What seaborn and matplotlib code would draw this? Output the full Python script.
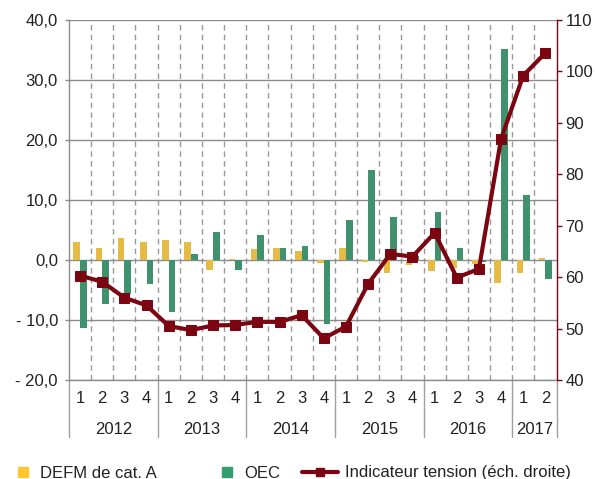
import numpy as np
import pandas as pd
import matplotlib
matplotlib.use("Agg")
import matplotlib.pyplot as plt
from matplotlib.lines import Line2D
import seaborn as sns

# ---- data ----
years = ["2012", "2013", "2014", "2015", "2016", "2017"]
quarters = ["1", "2", "3", "4"] * 5 + ["1", "2"]
defm = [3.0, 2.0, 3.6, 3.0, 3.3, 3.0, -1.7, 0.2, 1.8, 2.0, 1.5, -0.5,
        2.0, -0.4, -2.1, -0.9, -1.9, -1.4, -0.6, -3.9, -2.1, 0.4]
oec = [-11.3, -7.4, -5.6, -4.0, -8.7, 1.0, 4.6, -1.7, 4.1, 2.0, 2.3, -10.7,
       6.7, 15.0, 7.2, 0.7, 8.0, 2.0, -0.3, 35.2, 10.8, -3.2]
tension = [60.3, 59.1, 56.0, 54.5, 50.5, 49.7, 50.6, 50.7, 51.3, 51.3, 52.6, 48.1,
           50.4, 58.7, 64.5, 64.0, 68.6, 59.9, 61.6, 86.9, 99.2, 103.6]
year_counts = [4, 4, 4, 4, 4, 2]
left_ticks = [40, 30, 20, 10, 0, -10, -20]
left_labels = ["40,0", "30,0", "20,0", "10,0", "0,0", "- 10,0", "- 20,0"]
right_ticks = [40, 50, 60, 70, 80, 90, 100, 110]
series_names = ["DEFM de cat. A", "OEC"]
line_name = "Indicateur tension (éch. droite)"

YELLOW = "#FFC72C"
GREEN = "#339E70"
RED = "#7B0611"
GRID = "#8c8c8c"
TXT = "#222222"
FS = 12

sns.set_theme(style="white")
plt.rcParams["font.family"] = ["Liberation Sans", "DejaVu Sans"]
plt.rcParams["font.size"] = FS

# period keys
year_of = []
for y, c in zip(years, year_counts):
    year_of += [y] * c
periods = [f"{y}-{q}" for y, q in zip(year_of, quarters)]
n = len(periods)

df = pd.DataFrame({
    "period": periods * 2,
    "serie": [series_names[0]] * n + [series_names[1]] * n,
    "value": defm + oec,
})

fig = plt.figure(figsize=(5.95, 4.79), dpi=100)
ax = fig.add_axes([69 / 595, 1 - 380 / 479, (556.5 - 69) / 595, 360 / 479])

sns.barplot(data=df, x="period", y="value", hue="serie", order=periods,
            hue_order=series_names, palette=[YELLOW, GREEN], width=0.6,
            linewidth=0, legend=False, ax=ax, zorder=3)

ax.set_ylim(-20, 40)
ax.set_xlim(-0.5, n - 0.5)
ax.set_yticks(left_ticks)
ax.set_yticklabels(left_labels)
ax.set_xticks(range(n))
ax.set_xticklabels(quarters)
ax.set_xlabel("")
ax.set_ylabel("")
ax.tick_params(axis="y", which="major", length=3, width=1, color=GRID, pad=5,
               labelsize=FS, labelcolor=TXT, left=True)
ax.tick_params(axis="x", which="major", length=0, pad=8, labelsize=FS, labelcolor=TXT)
ax.set_xticks(np.arange(0.5, n - 1, 1), minor=True)
ax.tick_params(axis="x", which="minor", length=0)
ax.grid(which="major", axis="y", color=GRID, linewidth=1, linestyle="-", zorder=1)
ax.grid(which="minor", axis="x", color="#999999", linewidth=1, linestyle=(0, (4, 3)), zorder=1)
ax.grid(which="major", axis="x", visible=False)
ax.set_axisbelow(True)
for s in ["top", "right"]:
    ax.spines[s].set_visible(False)
for s in ["left", "bottom"]:
    ax.spines[s].set_color(GRID)
    ax.spines[s].set_linewidth(1)

# year separators & labels
bounds = np.cumsum([0] + year_counts) - 0.5
for b in bounds:
    ax.axvline(b, ymin=-57 / 360, ymax=0, color="#a0a0a0", linewidth=1, clip_on=False)
for i, y in enumerate(years):
    cx = (bounds[i] + bounds[i + 1]) / 2
    ax.text(cx, -50 / 360, y, transform=ax.get_xaxis_transform(), ha="center",
            va="center", fontsize=FS, color=TXT)

# right axis line
ax2 = ax.twinx()
sns.lineplot(x=np.arange(n), y=tension, ax=ax2, color=RED, linewidth=3,
             marker="s", markersize=7, markeredgecolor=RED, zorder=5)
ax2.set_ylim(40, 110)
ax2.set_yticks(right_ticks)
ax2.set_ylabel("")
ax2.tick_params(axis="y", length=3.5, width=1, color=RED, pad=3, labelsize=FS,
                labelcolor=TXT, right=True)
for s in ["top", "left", "bottom"]:
    ax2.spines[s].set_visible(False)
ax2.spines["right"].set_color(RED)
ax2.spines["right"].set_linewidth(1)
ax2.grid(False)

# legends
yl = 1 - 473 / 479
h1 = Line2D([], [], linestyle="none", marker="s", markersize=7.5, color=YELLOW)
h2 = Line2D([], [], linestyle="none", marker="s", markersize=7.5, color=GREEN)
h3 = Line2D([], [], color=RED, linewidth=3, marker="s", markersize=6)
common = dict(frameon=False, loc="center left", borderpad=0, borderaxespad=0,
              fontsize=FS, labelcolor=TXT)
fig.legend([h1], [series_names[0]], bbox_to_anchor=(16.5 / 595, yl),
           handlelength=0.8, handletextpad=0.6, **common)
fig.legend([h2], [series_names[1]], bbox_to_anchor=(220.5 / 595, yl),
           handlelength=0.8, handletextpad=0.6, **common)
fig.legend([h3], [line_name], bbox_to_anchor=(302 / 595, yl),
           handlelength=2.15, handletextpad=0.42, **common)

fig.savefig("out.png", dpi=100)
